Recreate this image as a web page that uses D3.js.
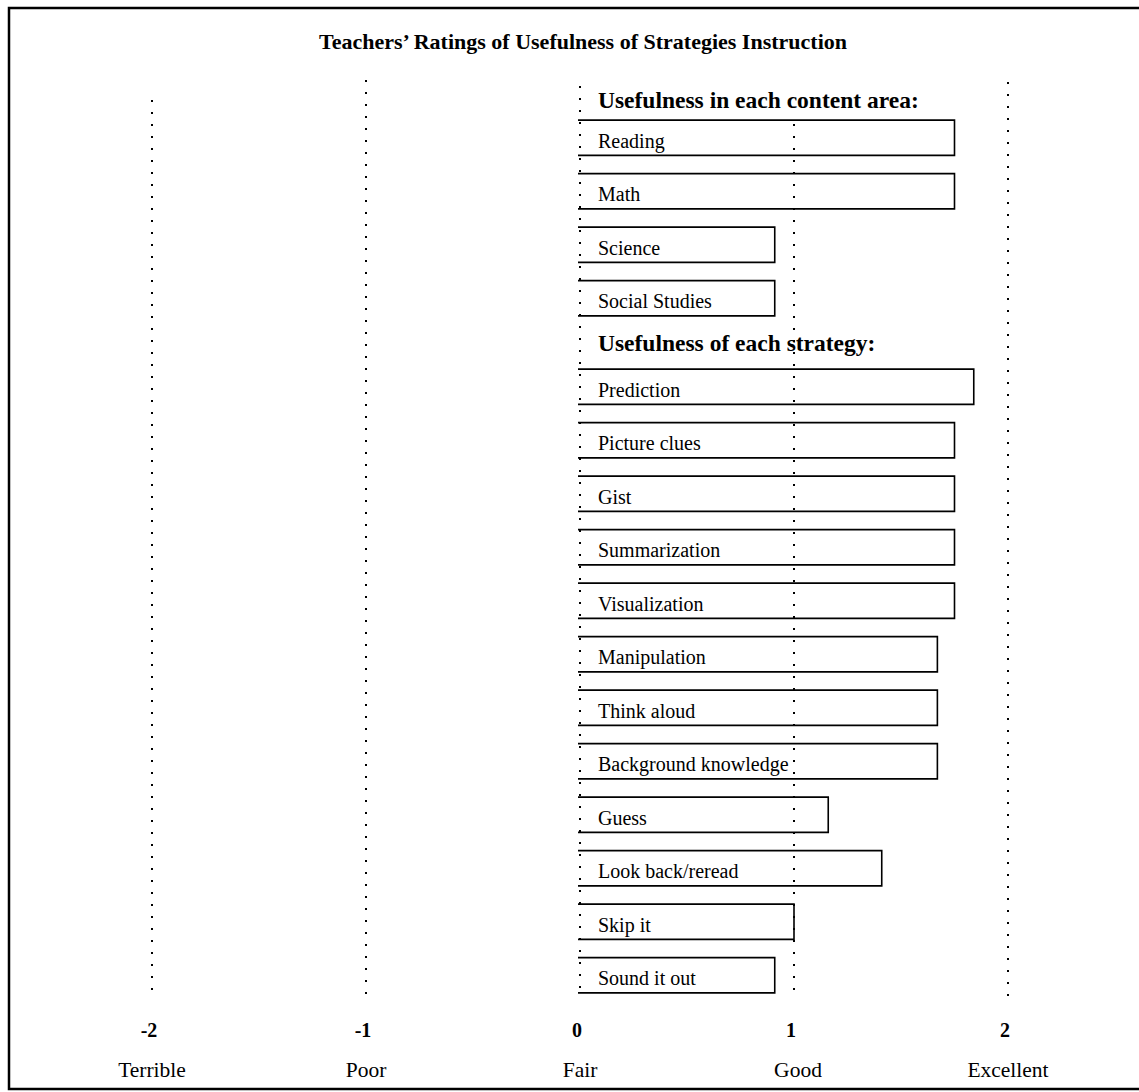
<!DOCTYPE html>
<html>
<head>
<meta charset="utf-8">
<script src="https://cdn.jsdelivr.net/npm/d3@7"></script>
<style>
  body { margin: 0; background: #fff; }
  svg { display: block; font-family: "Liberation Serif", "DejaVu Serif", serif; }
</style>
</head>
<body>
<svg id="chart"></svg>
<script>
// data
const contentAreas = ['Reading', 'Math', 'Science', 'Social Studies'];
const contentValues = [1.75, 1.75, 0.91, 0.91];

const strategies = ['Prediction', 'Picture clues', 'Gist', 'Summarization', 'Visualization',
  'Manipulation', 'Think aloud', 'Background knowledge', 'Guess', 'Look back/reread',
  'Skip it', 'Sound it out'];
const strategyValues = [1.84, 1.75, 1.75, 1.75, 1.75, 1.67, 1.67, 1.67, 1.16, 1.41, 1.0, 0.91];

const tickValues = [-2, -1, 0, 1, 2];
const tickNames = ['Terrible', 'Poor', 'Fair', 'Good', 'Excellent'];

const title = 'Teachers\u2019 Ratings of Usefulness of Strategies Instruction';
const header1 = 'Usefulness in each content area:';
const header2 = 'Usefulness of each strategy:';

const width = 1139, height = 1092;

const svg = d3.select('#chart')
    .attr('width', width)
    .attr('height', height);

// frame
svg.append('rect')
    .attr('x', 9).attr('y', 8)
    .attr('width', 1145).attr('height', 1081)
    .attr('fill', 'none')
    .attr('stroke', '#000')
    .attr('stroke-width', 2.5);

// scales
const x = d3.scaleLinear().domain([-2, 2]).range([152, 1008]);

const step = 53.5;
const yContent = d3.scaleBand()
    .domain(contentAreas)
    .range([111, 111 + contentAreas.length * step])
    .paddingInner(0.34)
    .paddingOuter(0.17);

const yStrategy = d3.scaleBand()
    .domain(strategies)
    .range([360, 360 + strategies.length * step])
    .paddingInner(0.34)
    .paddingOuter(0.17);

// title
svg.append('text')
    .attr('x', 583).attr('y', 49)
    .attr('text-anchor', 'middle')
    .attr('font-weight', 'bold')
    .attr('font-size', 22)
    .text(title);

// dotted gridlines
const gridTop = { '-2': 100, '-1': 80, '0': 86, '1': 124, '2': 82 };
svg.append('g')
    .selectAll('line')
    .data(tickValues)
    .join('line')
    .attr('x1', d => x(d)).attr('x2', d => x(d))
    .attr('y1', d => gridTop[d])
    .attr('y2', 998)
    .attr('stroke', '#000')
    .attr('stroke-width', 2)
    .attr('stroke-dasharray', '2,10');

// bars: top, bottom, right edges (left edge is the zero line)
function drawBars(names, values, yScale) {
    const g = svg.append('g');
    const rows = names.map((n, i) => ({ name: n, value: values[i] }));
    const bw = yScale.bandwidth();

    g.selectAll('path.bar')
        .data(rows)
        .join('path')
        .attr('class', 'bar')
        .attr('d', d => {
            const y0 = yScale(d.name), y1 = y0 + bw;
            return `M${x(0) - 2},${y0} H${x(d.value)} V${y1} H${x(0) - 2}`;
        })
        .attr('fill', 'none')
        .attr('stroke', '#000')
        .attr('stroke-width', 1.6);

    g.selectAll('text.lbl')
        .data(rows)
        .join('text')
        .attr('class', 'lbl')
        .attr('x', x(0) + 18)
        .attr('y', d => yScale(d.name) + bw / 2 + 10)
        .attr('font-size', 20)
        .text(d => d.name);
}

drawBars(contentAreas, contentValues, yContent);
drawBars(strategies, strategyValues, yStrategy);

// group headers
svg.append('text')
    .attr('x', x(0) + 18).attr('y', 108)
    .attr('font-weight', 'bold')
    .attr('font-size', 23.5)
    .text(header1);

svg.append('text')
    .attr('x', x(0) + 18).attr('y', 351)
    .attr('font-weight', 'bold')
    .attr('font-size', 23.5)
    .text(header2);

// axis labels
const axis = svg.append('g');
axis.selectAll('text.num')
    .data(tickValues)
    .join('text')
    .attr('class', 'num')
    .attr('x', d => x(d) - 3)
    .attr('y', 1037)
    .attr('text-anchor', 'middle')
    .attr('font-weight', 'bold')
    .attr('font-size', 20)
    .text(d => d);

axis.selectAll('text.name')
    .data(tickValues)
    .join('text')
    .attr('class', 'name')
    .attr('x', d => x(d) + (d === 1 ? 4 : 0))
    .attr('y', 1077)
    .attr('text-anchor', 'middle')
    .attr('font-size', 21.5)
    .text((d, i) => tickNames[i]);
</script>
</body>
</html>
